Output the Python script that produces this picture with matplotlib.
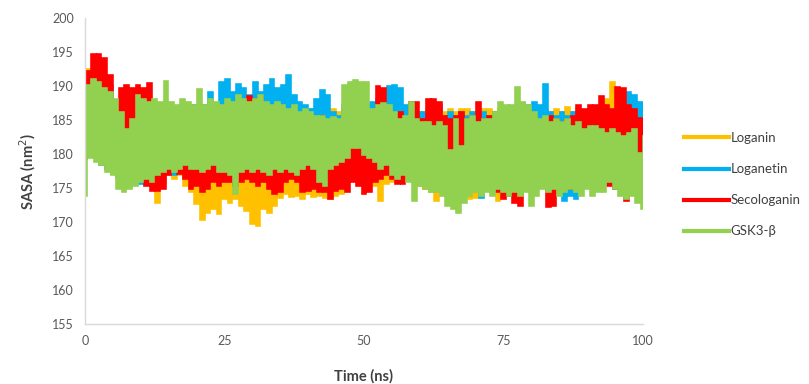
import matplotlib
matplotlib.use("Agg")
import matplotlib.pyplot as plt
import numpy as np

# SASA: one high and one low value per ns (t = 0..100)
time_ns = np.arange(0, 101)

gsk3_hi = [190.0, 190.9, 190.5, 189.5, 189.0, 188.0, 186.0, 183.5, 185.0, 188.5,
           188.0, 187.5, 188.0, 187.5, 190.6, 187.5, 187.0, 188.0, 187.5, 187.0,
           189.4, 187.0, 188.0, 187.5, 187.0, 188.0, 187.5, 188.5, 188.0, 187.5,
           188.0, 188.5, 187.5, 187.0, 187.5, 187.0, 186.5, 187.0, 186.0, 186.5,
           186.0, 185.5, 185.5, 185.0, 185.3, 185.0, 190.0, 190.5, 190.8, 190.5,
           190.4, 186.5, 187.0, 187.3, 187.0, 186.0, 185.0, 185.5, 187.5, 185.0,
           184.5, 184.5, 184.0, 184.5, 184.0, 180.5, 185.0, 181.0, 185.0, 185.5,
           184.5, 185.0, 185.0, 186.0, 187.5, 187.0, 187.0, 189.7, 187.5, 187.0,
           186.0, 185.0, 185.5, 184.5, 185.0, 184.5, 185.0, 184.0, 184.5, 183.5,
           184.0, 184.0, 183.5, 183.0, 183.5, 183.0, 182.5, 183.0, 183.5, 180.0, 182.5]
gsk3_lo = [174.0, 179.6, 179.0, 178.5, 177.5, 177.0, 175.0, 174.5, 175.0, 175.5,
           176.0, 176.5, 176.0, 177.0, 177.5, 178.0, 177.5, 178.0, 178.5, 178.0,
           178.0, 177.5, 178.0, 178.5, 177.5, 177.5, 177.0, 174.2, 177.5, 178.0,
           177.5, 178.0, 177.5, 177.0, 178.0, 177.5, 178.0, 177.5, 177.0, 178.0,
           178.5, 178.0, 176.0, 175.5, 178.0, 178.5, 179.0, 179.5, 181.0, 181.0,
           180.0, 179.5, 179.0, 178.0, 178.5, 177.0, 176.5, 177.0, 176.0, 173.2,
           175.5, 175.0, 174.5, 174.5, 174.0, 172.5, 172.0, 171.5, 173.0, 174.0,
           174.5, 174.0, 174.5, 174.0, 175.0, 174.5, 174.0, 174.5, 174.0, 174.5,
           172.5, 174.0, 175.0, 174.5, 175.0, 174.0, 174.5, 175.0, 174.5, 174.0,
           175.0, 174.0, 174.5, 174.5, 176.0, 175.0, 174.0, 173.5, 174.0, 173.0, 172.0]

seco_hi = [192.0, 194.6, 194.5, 194.0, 191.4, 187.5, 189.5, 190.0, 189.5, 190.0,
           189.5, 190.3, 187.0, 186.5, 186.0, 187.0, 186.5, 186.0, 187.0, 186.5,
           186.0, 186.0, 185.5, 186.0, 185.0, 186.0, 185.5, 186.0, 185.0, 188.4,
           188.0, 188.4, 185.0, 185.5, 185.0, 184.5, 185.0, 185.5, 185.0, 184.5,
           185.0, 184.5, 185.5, 184.5, 185.0, 184.5, 185.0, 185.5, 185.0, 184.5,
           185.0, 186.0, 189.9, 189.5, 186.0, 185.5, 186.0, 185.0, 187.5, 187.5,
           185.0, 188.0, 188.0, 187.5, 185.5, 185.0, 185.5, 186.0, 185.0, 185.5,
           187.5, 185.0, 185.5, 185.0, 185.5, 186.0, 185.0, 185.5, 185.0, 184.5,
           185.0, 184.5, 185.0, 185.5, 185.0, 184.5, 185.0, 185.5, 187.0, 186.5,
           187.0, 187.0, 188.4, 187.0, 186.5, 189.7, 189.5, 187.0, 186.5, 185.2, 185.0]
seco_lo = [179.4, 180.5, 181.0, 183.0, 180.0, 179.5, 180.0, 179.5, 179.0, 180.0,
           179.0, 175.5, 174.7, 174.7, 175.0, 177.0, 178.0, 177.2, 176.5, 175.0,
           175.5, 174.5, 175.0, 176.0, 175.5, 176.0, 176.0, 175.5, 176.0, 176.5,
           176.0, 175.5, 176.0, 175.0, 174.2, 174.5, 176.0, 176.5, 176.0, 174.5,
           174.7, 175.0, 174.5, 174.5, 173.5, 174.7, 175.0, 174.5, 176.0, 175.5,
           174.2, 174.5, 176.0, 176.5, 177.0, 176.5, 175.7, 175.7, 177.0, 177.5,
           178.0, 177.5, 178.0, 177.0, 178.0, 179.0, 179.5, 179.0, 178.0, 177.5,
           177.0, 176.5, 176.7, 175.0, 174.5, 173.5, 174.0, 173.0, 172.5, 175.0,
           176.0, 175.5, 176.0, 172.3, 172.5, 175.0, 175.5, 175.0, 176.0, 175.5,
           176.0, 175.0, 175.5, 176.0, 175.5, 175.0, 176.0, 173.2, 176.0, 179.5, 179.5]

loganetin_hi = [186.0, 187.0, 188.0, 187.5, 190.0, 187.0, 186.5, 187.0, 186.0, 187.0,
                186.5, 187.0, 186.0, 187.0, 186.5, 187.0, 186.0, 187.0, 186.5, 187.0,
                186.0, 187.0, 189.0, 187.0, 190.4, 190.9, 189.0, 190.1, 189.6, 188.5,
                190.4, 189.0, 190.0, 190.9, 189.5, 190.0, 191.4, 188.5, 187.5, 187.0,
                186.5, 188.0, 189.2, 188.5, 186.0, 185.5, 187.0, 186.5, 187.0, 186.5,
                187.0, 187.5, 188.0, 187.0, 189.9, 190.0, 189.5, 187.0, 186.0, 185.5,
                186.0, 185.5, 186.0, 187.0, 185.5, 186.0, 185.5, 186.0, 185.5, 186.0,
                185.5, 186.0, 185.5, 186.0, 185.5, 186.0, 185.5, 186.0, 187.3, 187.0,
                187.5, 187.0, 190.1, 186.0, 185.5, 186.0, 185.5, 186.0, 185.5, 186.0,
                185.5, 186.0, 185.5, 186.0, 185.5, 186.0, 186.5, 189.0, 188.5, 187.5, 186.0]
loganetin_lo = [180.0, 181.6, 180.0, 178.6, 178.0, 177.2, 176.7, 177.0, 177.5, 177.0,
                175.7, 175.7, 177.2, 177.5, 178.0, 177.5, 177.0, 178.0, 177.5, 178.0,
                177.5, 178.0, 177.5, 178.0, 177.5, 178.0, 177.5, 178.0, 177.5, 178.0,
                177.5, 178.0, 177.5, 178.0, 177.5, 178.0, 177.5, 178.0, 177.5, 178.0,
                177.5, 178.0, 177.5, 178.0, 177.5, 177.0, 177.5, 178.0, 177.5, 178.0,
                177.5, 178.0, 177.5, 178.0, 177.5, 178.0, 177.5, 178.0, 177.5, 177.0,
                176.7, 177.0, 177.5, 178.0, 177.5, 178.0, 177.5, 178.0, 177.5, 177.0,
                176.5, 173.7, 177.0, 177.5, 177.0, 177.5, 177.0, 177.5, 177.0, 177.5,
                177.0, 177.5, 177.0, 177.5, 177.0, 177.5, 173.3, 174.0, 173.5, 177.0,
                177.5, 177.0, 177.5, 177.0, 177.5, 177.0, 177.5, 177.0, 177.5, 177.0, 177.5]

loganin_hi = [192.3, 191.5, 191.0, 187.0, 186.5, 186.0, 186.5, 186.0, 186.5, 186.0,
              186.5, 186.0, 186.5, 186.0, 186.5, 186.0, 186.5, 186.0, 186.5, 186.0,
              186.5, 186.0, 186.5, 186.0, 186.5, 186.0, 186.5, 186.0, 186.5, 186.0,
              186.5, 186.0, 186.5, 186.0, 186.5, 186.0, 186.5, 186.0, 186.5, 186.0,
              186.5, 186.0, 186.5, 186.0, 186.5, 186.0, 186.5, 186.0, 186.5, 186.0,
              186.5, 186.0, 186.5, 186.0, 186.5, 186.0, 186.5, 186.0, 186.5, 186.0,
              186.0, 186.5, 186.0, 186.5, 186.0, 186.5, 186.0, 186.5, 186.5, 186.0,
              186.0, 186.5, 186.5, 186.0, 186.5, 186.0, 186.5, 186.0, 186.5, 186.0,
              186.5, 186.0, 186.5, 186.0, 186.5, 186.0, 186.7, 186.0, 186.5, 186.0,
              186.5, 186.0, 186.5, 188.0, 190.4, 187.0, 187.0, 188.0, 186.5, 186.0, 186.5]
loganin_lo = [180.0, 180.0, 179.5, 179.0, 178.0, 177.5, 178.0, 177.5, 178.0, 177.5,
              178.0, 177.5, 178.0, 173.0, 176.0, 177.0, 176.5, 177.0, 175.5, 174.5,
              172.8, 170.5, 171.5, 172.0, 171.3, 173.5, 173.0, 173.5, 172.5, 171.8,
              169.8, 169.6, 172.0, 171.5, 172.5, 173.7, 174.2, 173.8, 174.0, 173.5,
              174.2, 173.8, 174.0, 173.7, 173.5, 174.0, 174.2, 176.0, 176.5, 176.0,
              176.5, 176.0, 175.5, 173.2, 175.8, 176.0, 176.5, 176.0, 176.5, 176.0,
              175.5, 175.0, 174.5, 173.2, 175.5, 175.0, 175.5, 175.0, 175.5, 173.5,
              173.7, 176.0, 176.5, 176.0, 173.2, 176.0, 176.5, 176.0, 176.5, 176.0,
              176.5, 176.0, 176.5, 176.0, 176.5, 176.0, 176.5, 176.0, 176.5, 176.0,
              176.5, 176.0, 176.5, 176.0, 176.5, 176.0, 176.5, 176.0, 176.5, 176.0, 176.5]

names = ["Loganin", "Loganetin", "Secologanin", "GSK3-\u03b2"]
colors = ["#FFC000", "#00B0F0", "#FF0000", "#92D050"]
series = [(loganin_lo, loganin_hi), (loganetin_lo, loganetin_hi),
          (seco_lo, seco_hi), (gsk3_lo, gsk3_hi)]


def zigzag(lo, hi):
    # low value at t, high value half a step later
    t = np.empty(2 * len(time_ns))
    t[0::2] = time_ns
    t[1::2] = time_ns + 0.5
    v = np.empty(2 * len(time_ns))
    v[0::2] = lo
    v[1::2] = hi
    return t, v


plt.rcParams['font.family'] = ['Lato', 'DejaVu Sans']

fig = plt.figure(figsize=(8.09, 3.84), dpi=100)
ax = fig.add_axes([85 / 809, 60 / 384, 558 / 809, 306 / 384])

for (lo, hi), name, c in zip(series, names, colors):
    t, v = zigzag(lo, hi)
    ax.plot(t, v, color=c, lw=2.6, label=name, drawstyle='steps-mid',
            solid_joinstyle='miter')

ax.set_xlim(0, 100)
ax.set_ylim(155, 200)
ax.set_xticks([0, 25, 50, 75, 100])
ax.set_yticks(np.arange(155, 201, 5))
ax.tick_params(length=0, labelsize=9, labelcolor='#595959', pad=8)
for s in ['top', 'right']:
    ax.spines[s].set_visible(False)
for s in ['left', 'bottom']:
    ax.spines[s].set_color('#D9D9D9')
    ax.spines[s].set_linewidth(1)

ax.set_xlabel('Time (ns)', fontsize=10.5, fontweight='bold', color='#404040', labelpad=16)
ax.set_ylabel('SASA (nm$^{2}$)', fontsize=10.5, fontweight='bold', color='#404040', labelpad=10)

leg = ax.legend(loc='upper left', bbox_to_anchor=(684 / 809, 1 - 132 / 384),
                bbox_transform=fig.transFigure, frameon=False, fontsize=9.5,
                handlelength=3.4, handletextpad=0.15, labelspacing=1.45,
                borderpad=0, borderaxespad=0)
for line in leg.get_lines():
    line.set_linewidth(3)
    line.set_drawstyle('default')
for txt in leg.get_texts():
    txt.set_color('#404040')

fig.savefig('out.png', dpi=100)
